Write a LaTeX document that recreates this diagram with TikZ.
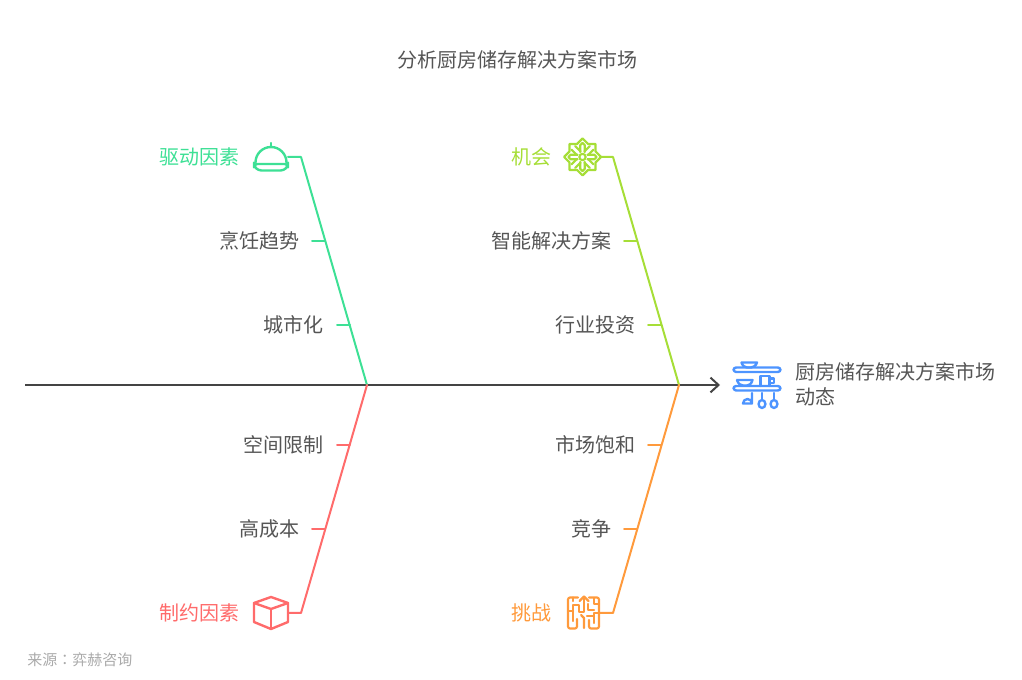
\documentclass[tikz,border=0pt]{standalone}
\usepackage{fontspec}
\setmainfont{Noto Sans CJK SC}
\newfontfamily\tcfont{Noto Sans CJK TC}
\usetikzlibrary{arrows.meta}
\definecolor{cgreen}{HTML}{3DE095}
\definecolor{clime}{HTML}{A6DE37}
\definecolor{cred}{HTML}{FF6B6B}
\definecolor{corange}{HTML}{FF9A3C}
\definecolor{cblue}{HTML}{4D94FF}
\definecolor{ctext}{HTML}{555555}
\definecolor{cspine}{HTML}{444444}
\definecolor{csrc}{HTML}{AAAAAA}
\tikzset{
  lab/.style={font=\fontsize{15}{15}\selectfont,text=ctext,inner sep=0pt,anchor=east},
  head/.style={font=\fontsize{15}{15}\selectfont,inner sep=0pt,anchor=east},
  rib/.style={line width=1.5pt,line join=round,line cap=round},
  ico/.style={line width=1.8pt,line join=round,line cap=round},
}
\begin{document}
\begin{tikzpicture}[x=0.75pt,y=-0.75pt]
\useasboundingbox (0,0) rectangle (1022,680);
\node[font=\fontsize{15}{15}\selectfont,text=ctext,inner sep=0pt] (title) at (517.5,60) {分析厨房储存解决方案市场};
% spine
\coordinate (tail) at (25,385);
\coordinate (j1) at (367,385);
\coordinate (j2) at (679,385);
\coordinate (tip) at (720,385);
\draw[line width=1.5pt,cspine,-{Straight Barb[length=6pt,width=11pt,line width=1.5pt]}] (tail) -- (tip);
% bones
\coordinate (g0) at (288,157); \coordinate (g1) at (301,157);
\coordinate (l0) at (600,157); \coordinate (l1) at (613,157);
\coordinate (r0) at (288,613); \coordinate (r1) at (301,613);
\coordinate (o0) at (600,613); \coordinate (o1) at (613,613);
\draw[rib,cgreen] (g0) -- (g1) -- (j1);
\draw[rib,clime] (l0) -- (l1) -- (j2);
\draw[rib,cred] (r0) -- (r1) -- (j1);
\draw[rib,corange] (o0) -- (o1) -- (j2);
% heads
\node[head,text=cgreen] (hg) at (240,157) {驱动因素};
\node[head,text=clime] (hl) at (552,157) {机会};
\node[head,text=cred] (hr) at (240,613) {制约因素};
\node[head,text=corange] (ho) at (552,613) {挑战};
% labels + ribs
\node[lab] (a1) at (300,241) {烹饪趋势};
\node[lab] (a2) at (324,325) {城市化};
\node[lab] (b1) at (612,241) {智能解决方案};
\node[lab] (b2) at (636,325) {行业投资};
\node[lab] (c1) at (324,445) {空间限制};
\node[lab] (c2) at (300,529) {高成本};
\node[lab] (d1) at (636,445) {市场饱和};
\node[lab] (d2) at (612,529) {竞争};
\draw[rib,cgreen] (312,241) -- (325,241);
\draw[rib,cgreen] (337,325) -- (350,325);
\draw[rib,clime] (624,241) -- (637,241);
\draw[rib,clime] (648,325) -- (661,325);
\draw[rib,cred] (337,445) -- (350,445);
\draw[rib,cred] (312,529) -- (325,529);
\draw[rib,corange] (648,445) -- (661,445);
\draw[rib,corange] (624,529) -- (637,529);
% effect
\node[font=\fontsize{15}{18.4}\selectfont,text=ctext,inner sep=0pt,anchor=west,align=left] (effect) at (795.5,384.5) {厨房储存解决方案市场\\动态};
\node[font=\fontsize{11.25}{12}\selectfont,text=csrc,inner sep=0pt,anchor=west] (src) at (27,660) {来源{\tcfont ：}弈赫咨询};
% bell icon
\begin{scope}[ico,cgreen]
\draw (271,143) -- (271,147);
\draw (255.5,162.5) arc[start angle=180,end angle=360,radius=15.5];
\draw[rounded corners=2.5pt] (254,164) -- (288,164) -- (288,166) -- (284,170.5) -- (258,170.5) -- (254,166) -- cycle;
\end{scope}
% flower icon
\begin{scope}[shift={(582.5,157)},ico,clime,line width=1.6pt]
\draw (0,-18.5) -- (5.5,-13) -- (13,-13) -- (13,-5.5) -- (18.5,0) -- (13,5.5) -- (13,13) -- (5.5,13) -- (0,18.5) -- (-5.5,13) -- (-13,13) -- (-13,5.5) -- (-18.5,0) -- (-13,-5.5) -- (-13,-13) -- (-5.5,-13) -- cycle;
\draw (0,0) circle[radius=3.2];
\foreach \a in {0,90,180,270}{
  \draw[rotate=\a] (-2.2,-5) -- (-2.2,-12) -- (0,-14) -- (2.2,-12) -- (2.2,-5);
}
\foreach \a in {45,135,225,315}{
  \draw[rotate=\a] (-2.5,-5) -- (-2.5,-13);
  \draw[rotate=\a] (2.5,-5) -- (2.5,-13);
}
\end{scope}
% cube icon
\begin{scope}[ico,cred]
\draw (271,597) -- (288,603) -- (288,622) -- (271,629) -- (254,622) -- (254,603) -- cycle;
\draw (254,603) -- (271,609) -- (288,603);
\draw (271,609) -- (271,629);
\end{scope}
% maze icon
\begin{scope}[ico,corange,line width=1.6pt]
\draw[rounded corners=1.5pt] (578,597.5) -- (568,597.5) -- (568,628.5) -- (577,628.5) -- (577,619);
\draw[rounded corners=1.5pt] (589,597.5) -- (599,597.5) -- (599,628.5) -- (589,628.5) -- (589,620);
\draw (584,597.5) -- (584,612) -- (579,612) -- (579,605) -- (573,605) -- (573,621);
\draw (579.5,601) -- (584,596.5) -- (588.5,601);
\draw (584,628) -- (584,618) -- (581,615);
\draw (573,597.5) -- (573,601);
\draw (568,611) -- (573,611);
\draw (594,598) -- (594,604) -- (599,604);
\draw (588,604) -- (588,610) -- (594,610);
\draw (599,613) -- (594,613) -- (594,623);
\draw (587,616) -- (594,616);
\end{scope}
% kitchen icon
\begin{scope}[ico,cblue]
\draw[rounded corners=2pt] (733.5,367.5) rectangle (780.5,372);
\draw[rounded corners=2pt] (733.5,386) rectangle (780.5,390.5);
\draw (741.5,362.5) -- (757,362.5) .. controls (756,366) and (753,367.5) .. (751,367.5) -- (747,367.5) .. controls (745,367.5) and (742.5,366) .. (741.5,362.5);
\draw (737,380) -- (752.5,380) .. controls (751.5,384) and (749,385.5) .. (747,385.5) -- (743,385.5) .. controls (741,385.5) and (738,384) .. (737,380);
\draw (760.5,386) -- (760.5,376) -- (769.5,376) -- (769.5,386);
\draw (769.5,378.5) -- (774,378.5) -- (774,383) -- (769.5,383);
\draw (752,393) -- (752,403.5) arc[start angle=0,end angle=-180,radius=4.5] -- (752,403.5);
\draw (762,393) -- (762,400);
\draw (762,404) ellipse[x radius=3.4,y radius=4];
\draw (774,393) -- (774,400);
\draw (774,404) ellipse[x radius=3.4,y radius=4];
\end{scope}
\end{tikzpicture}
\end{document}
